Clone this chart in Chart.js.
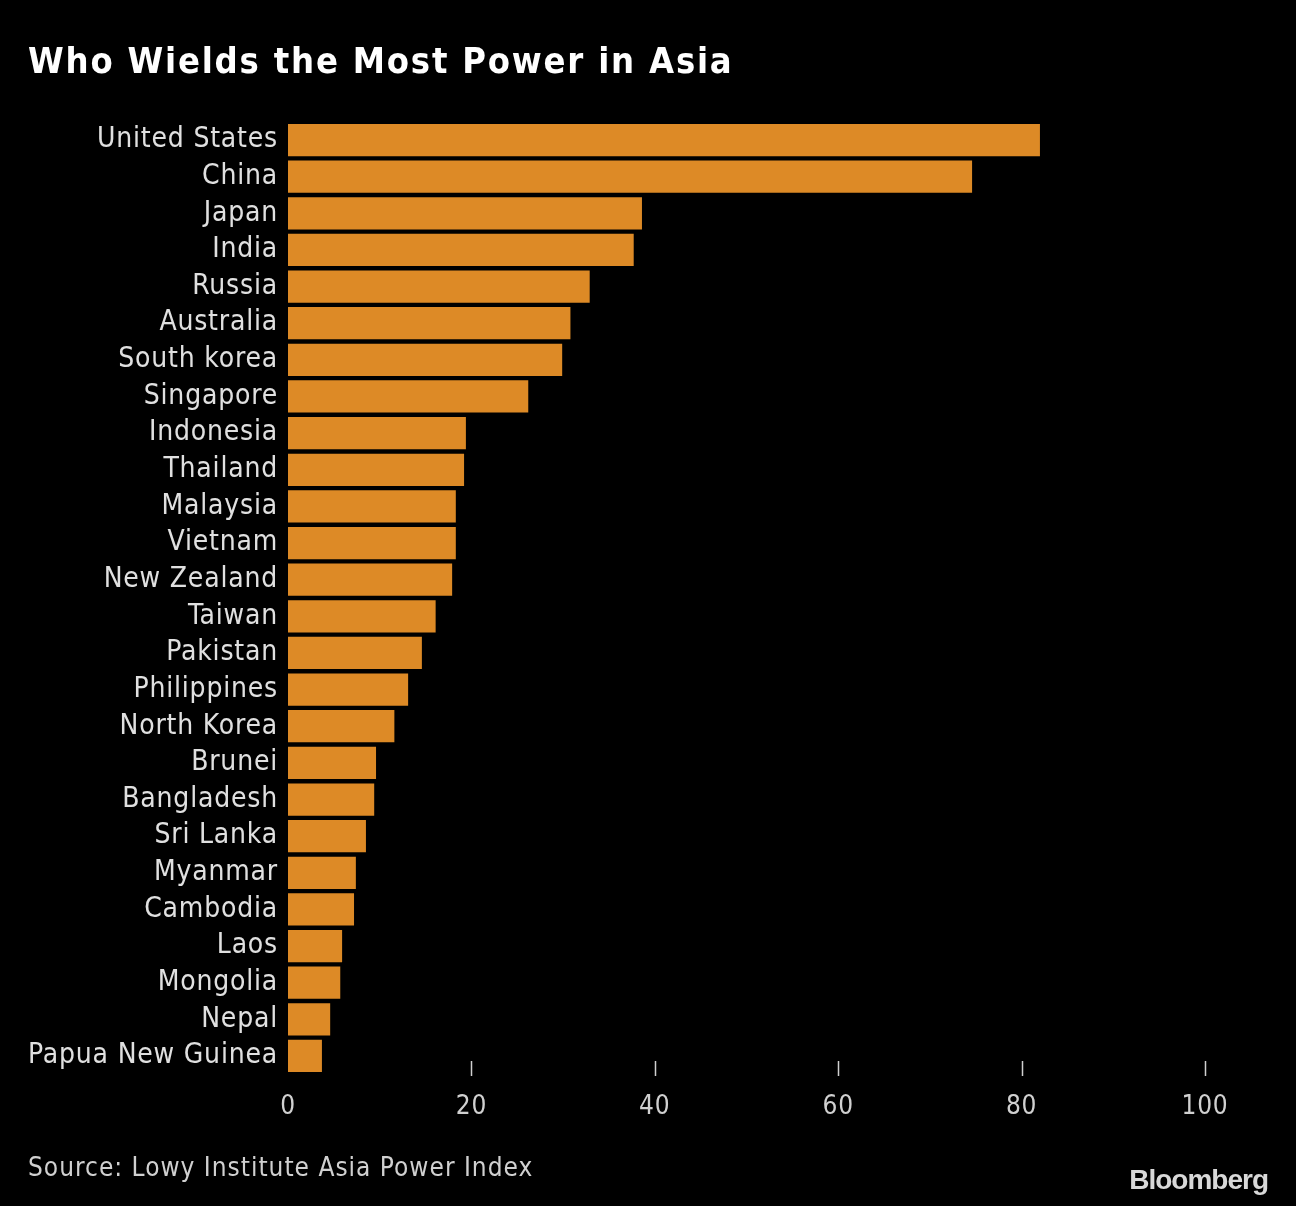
<!DOCTYPE html>
<html><head><meta charset="utf-8">
<script src="https://cdn.jsdelivr.net/npm/chart.js@4/dist/chart.umd.min.js"></script>
<style>
html,body{margin:0;padding:0;background:#000;width:1296px;height:1206px;overflow:hidden;}
#wrap{position:absolute;left:0;top:0;width:1296px;height:1206px;}
#title{position:absolute;left:28px;top:40px;font-family:"DejaVu Sans Condensed","DejaVu Sans";font-weight:bold;font-size:36px;color:#fff;letter-spacing:1.8px;white-space:nowrap;}
#source{position:absolute;left:28px;top:1152px;font-family:"DejaVu Sans Condensed","DejaVu Sans";font-size:26px;color:#d0d0d0;letter-spacing:1px;white-space:nowrap;}
#brand{position:absolute;right:28px;top:1164px;font-family:"Liberation Sans Narrow","Liberation Sans";font-weight:bold;font-size:28px;color:#d8d8d8;letter-spacing:-1px;white-space:nowrap;}
</style></head>
<body>
<div id="wrap"><canvas id="c" width="1296" height="1206"></canvas></div>
<div id="title">Who Wields the Most Power in Asia</div>
<div id="source">Source: Lowy Institute Asia Power Index</div>
<div id="brand">Bloomberg</div>
<script>
const categories = ["United States","China","Japan","India","Russia","Australia","South korea","Singapore","Indonesia","Thailand","Malaysia","Vietnam","New Zealand","Taiwan","Pakistan","Philippines","North Korea","Brunei","Bangladesh","Sri Lanka","Myanmar","Cambodia","Laos","Mongolia","Nepal","Papua New Guinea"];
const powerScores = [82.0,74.6,38.6,37.7,32.9,30.8,29.9,26.2,19.4,19.2,18.3,18.3,17.9,16.1,14.6,13.1,11.6,9.6,9.4,8.5,7.4,7.2,5.9,5.7,4.6,3.7];
const xTicks = [0,20,40,60,80,100];

const FONT = "'DejaVu Sans Condensed', 'DejaVu Sans', sans-serif";

const textSpacing = {
  id: 'textSpacing',
  beforeDraw(chart) { chart.ctx.letterSpacing = '0.8px'; }
};

const tickMarks = {
  id: 'tickMarks',
  beforeDatasetsDraw(chart) {
    const ctx = chart.ctx, xs = chart.scales.x;
    ctx.save();
    ctx.strokeStyle = '#d0d0d0';
    ctx.lineWidth = 1.5;
    xTicks.filter(v => v !== 0).forEach(v => {
      const px = Math.round(xs.getPixelForValue(v)) + 0.5;
      ctx.beginPath();
      ctx.moveTo(px, 1061);
      ctx.lineTo(px, 1076);
      ctx.stroke();
    });
    ctx.restore();
  }
};

new Chart(document.getElementById('c'), {
  type: 'bar',
  data: {
    labels: categories,
    datasets: [{
      data: powerScores,
      backgroundColor: '#dd8a26',
      borderWidth: 0,
      barPercentage: 0.88,
      categoryPercentage: 1.0,
      clip: false
    }]
  },
  options: {
    indexAxis: 'y',
    responsive: false,
    animation: false,
    devicePixelRatio: 1,
    layout: { padding: { top: 121.7, right: 91, bottom: 71.7, left: 0 } },
    plugins: { legend: { display: false }, tooltip: { enabled: false } },
    scales: {
      x: {
        min: 0, max: 100,
        afterBuildTicks(s) { s.ticks = xTicks.map(v => ({ value: v })); },
        afterFit(s) { s.height = 60; },
        grid: { display: false, drawTicks: false },
        border: { display: false },
        ticks: { color: '#d0d0d0', font: { family: FONT, size: 26 }, padding: 17, maxRotation: 0 }
      },
      y: {
        afterFit(s) { s.width = 288; },
        grid: { display: false, drawTicks: false },
        border: { display: false },
        ticks: { color: '#e0e0e0', font: { family: FONT, size: 28 }, padding: 10, autoSkip: false }
      }
    }
  },
  plugins: [textSpacing, tickMarks]
});
</script>
</body></html>
